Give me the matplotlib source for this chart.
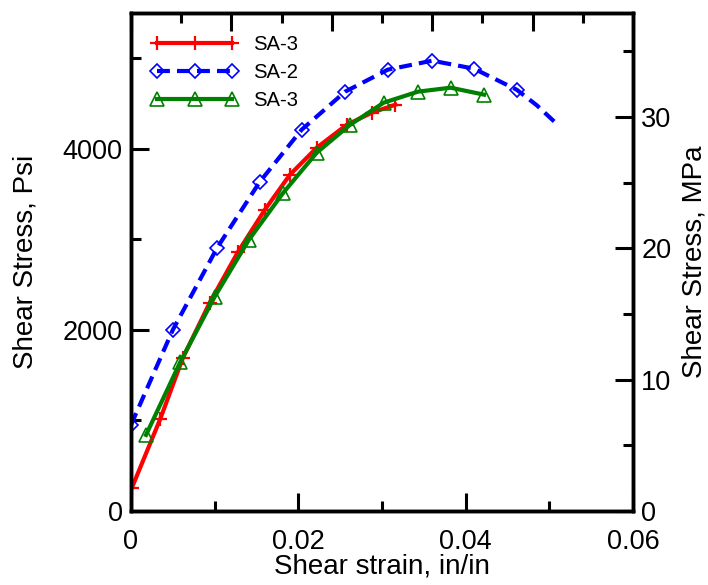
import matplotlib
matplotlib.use("Agg")
import matplotlib.pyplot as plt
from matplotlib.ticker import MultipleLocator, NullFormatter, FuncFormatter

plt.rcParams['font.family'] = ['Liberation Sans', 'DejaVu Sans']

# ---- data ----
# SA-3 (red, plus markers)
red_x = [0.0001, 0.0035, 0.0062, 0.0094, 0.0128, 0.0160, 0.0190, 0.0222, 0.0258, 0.0288, 0.0316]
red_y = [254, 1017, 1690, 2298, 2862, 3326, 3713, 4011, 4265, 4398, 4486]

# SA-2 (blue, diamond markers)
blue_x = [0.0000, 0.0050, 0.0103, 0.0154, 0.0204, 0.0256, 0.0307, 0.0360, 0.0410, 0.0461]
blue_y = [950, 2000, 2906, 3635, 4210, 4630, 4873, 4972, 4884, 4652]
# dashed SA-2 curve continues past the last marker
blue_line_end_x = [0.0485, 0.0510]
blue_line_end_y = [4480, 4265]

# SA-3 (green, triangle markers)
green_x = [0.0018, 0.0059, 0.0100, 0.0141, 0.0182, 0.0222, 0.0262, 0.0302, 0.0343, 0.0382, 0.0422]
green_y = [840, 1646, 2365, 2995, 3514, 3956, 4265, 4508, 4630, 4674, 4597]

labels = ["SA-3", "SA-2", "SA-3"]

x_lim = (0, 0.06)
psi_lim = (0, 5500)
psi_to_mpa = 0.006895

fig = plt.figure(figsize=(7.08, 5.85), dpi=100)
ax = fig.add_axes([0.185, 0.1265, 0.709, 0.8515])

ax.plot(red_x, red_y, color='red', lw=3, marker='+', ms=10, mew=1.6,
        label=labels[0], zorder=3)
ax.plot(blue_x + blue_line_end_x, blue_y + blue_line_end_y, color='blue', lw=3,
        dashes=(3.1, 1.7), zorder=2)
ax.plot(blue_x, blue_y, color='blue', lw=0, marker='D', ms=7.5, mew=1.2,
        mfc='none', zorder=2)
# legend proxy for SA-2
ax.plot([], [], color='blue', lw=3, dashes=(3.1, 1.7), marker='D',
        ms=7.5, mew=1.2, mfc='none', label=labels[1])
ax.plot(green_x, green_y, color='green', lw=3, marker='^', ms=10, mew=1.2,
        mfc='none', label=labels[2], zorder=4)

ax.set_xlim(*x_lim)
ax.set_ylim(*psi_lim)

ax.xaxis.set_major_locator(MultipleLocator(0.02))
ax.xaxis.set_minor_locator(MultipleLocator(0.01))
ax.yaxis.set_major_locator(MultipleLocator(2000))
ax.yaxis.set_minor_locator(MultipleLocator(1000))
ax.xaxis.set_major_formatter(FuncFormatter(
    lambda v, p: '0' if abs(v) < 1e-12 else f'{v:.2f}'))
ax.tick_params(which='both', direction='in', width=2.2, labelsize=19.5, pad=6)
ax.tick_params(which='major', length=13)
ax.tick_params(which='minor', length=7)
ax.tick_params(axis='x', pad=13)

for sp in ax.spines.values():
    sp.set_linewidth(2.4)

ax.set_xlabel("Shear strain, in/in", fontsize=20, labelpad=-1)
ax.set_ylabel("Shear Stress, Psi", fontsize=20, labelpad=17)

# right axis in MPa
ax2 = ax.twinx()
ax2.set_ylim(psi_lim[0] * psi_to_mpa, psi_lim[1] * psi_to_mpa)
ax2.yaxis.set_major_locator(MultipleLocator(10))
ax2.yaxis.set_minor_locator(MultipleLocator(5))
ax2.tick_params(which='both', direction='in', width=2.2, labelsize=19.5, pad=6)
ax2.tick_params(which='major', length=13)
ax2.tick_params(which='minor', length=7)
ax2.set_ylabel("Shear Stress, MPa", fontsize=20, labelpad=7)
for sp in ax2.spines.values():
    sp.set_linewidth(2.4)

# top axis ticks (unlabeled)
ax3 = ax.twiny()
ax3.set_xlim(*x_lim)
ax3.xaxis.set_major_locator(MultipleLocator(0.012))
ax3.xaxis.set_minor_locator(MultipleLocator(0.006))
ax3.xaxis.set_major_formatter(NullFormatter())
ax3.tick_params(which='both', direction='in', width=2.2)
ax3.tick_params(which='major', length=13)
ax3.tick_params(which='minor', length=7)
for sp in ax3.spines.values():
    sp.set_linewidth(2.4)

handles, labs = ax.get_legend_handles_labels()
leg = ax.legend(handles, labs, loc='upper left', bbox_to_anchor=(0.04, 0.956),
                frameon=False, fontsize=14.6, numpoints=3, handlelength=4.3,
                handletextpad=0.75, labelspacing=0.45, borderpad=0, borderaxespad=0)

fig.savefig("out.png", dpi=100)
